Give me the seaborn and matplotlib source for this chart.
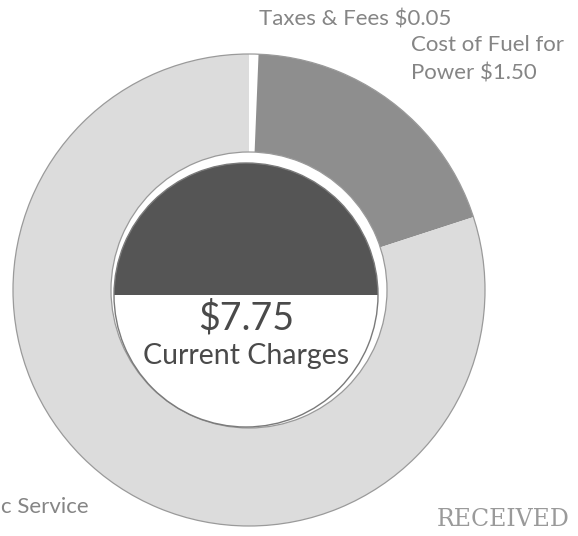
import matplotlib
matplotlib.use("Agg")
import matplotlib.pyplot as plt
import seaborn as sns

# bill breakdown (dollars)
categories = ["Taxes & Fees", "Cost of Fuel for Power", "Electric Service"]
amounts = [0.05, 1.50, 6.20]
total_label = "$7.75"
center_label = "Current Charges"

sns.set_theme(style="white")
plt.rcParams['font.family'] = ['Lato', 'DejaVu Sans']

W, H = 578, 536
fig = plt.figure(figsize=(W / 100, H / 100), dpi=100)
ax = fig.add_axes([0, 0, 1, 1])

cx, cy = 249, H - 290
r_out, r_in, r_disk = 236, 138, 132

ring_colors = ["#ffffff", "#8e8e8e", "#dcdcdc"]
ax.pie(amounts, colors=ring_colors, startangle=90, counterclock=False,
       radius=r_out, center=(cx, cy),
       wedgeprops=dict(width=r_out - r_in, linewidth=0))
# thin scanned outline around the ring
ax.pie([sum(amounts)], colors=["none"], radius=r_out, center=(cx, cy),
       wedgeprops=dict(width=r_out - r_in, edgecolor="#9a9a9a",
                       linewidth=0.9, facecolor="none"))

# inner disk: dark top half, white bottom half
dcx, dcy = cx - 3, cy - 5
ax.pie([1, 1], colors=["#555555", "#ffffff"], startangle=0,
       radius=r_disk, center=(dcx, dcy),
       wedgeprops=dict(linewidth=0))
ax.pie([1], colors=["none"], radius=r_disk, center=(dcx, dcy),
       wedgeprops=dict(edgecolor="#7a7a7a", linewidth=1.0, facecolor="none"))

ax.text(dcx, H - 318, total_label, ha="center", va="center",
        fontsize=27, color="#4a4a4a")
ax.text(dcx, H - 356, center_label, ha="center", va="center",
        fontsize=20.5, color="#4a4a4a")

lab_col = "#858585"
lab_fs = 16
ax.text(259, H - 19, f"{categories[0]} ${amounts[0]:.2f}", ha="left",
        va="center", fontsize=lab_fs, color=lab_col)
ax.text(411, H - 45, "Cost of Fuel for", ha="left", va="center",
        fontsize=lab_fs, color=lab_col)
ax.text(411, H - 73, f"Power ${amounts[1]:.2f}", ha="left", va="center",
        fontsize=lab_fs, color=lab_col)
ax.text(1, H - 507, "c Service", ha="left", va="center",
        fontsize=lab_fs, color=lab_col)

# received stamp at the bottom right corner
ax.text(570, H - 520, "RECEIVED", ha="right", va="center", fontsize=17,
        family=["DejaVu Serif"], color="#9a9a9a")

ax.set_xlim(0, W)
ax.set_ylim(0, H)
ax.set_aspect("equal")
ax.axis("off")
fig.savefig("out.png", dpi=100, facecolor="white")
